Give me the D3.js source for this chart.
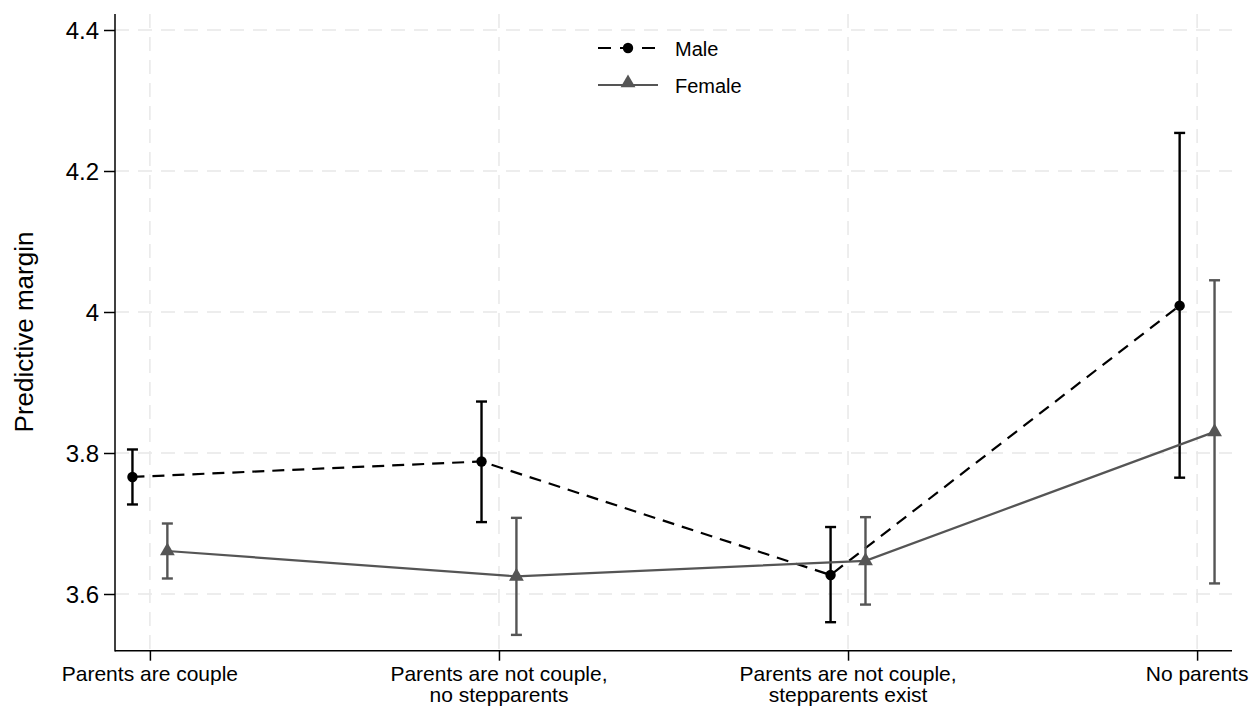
<!DOCTYPE html>
<html><head><meta charset="utf-8">
<script src="https://cdn.jsdelivr.net/npm/d3@7"></script>
<style>body{margin:0;background:#fff;font-family:Arial,"Liberation Sans",sans-serif;}</style>
</head><body><svg id="c" width="1253" height="706"></svg>
<script>
const categories = [["Parents are couple"],["Parents are not couple,","no stepparents"],["Parents are not couple,","stepparents exist"],["No parents"]];
const maleMean = [3.766, 3.788, 3.627, 4.009];
const maleLo   = [3.727, 3.702, 3.560, 3.765];
const maleHi   = [3.805, 3.873, 3.695, 4.254];
const femaleMean = [3.661, 3.625, 3.647, 3.830];
const femaleLo   = [3.622, 3.542, 3.585, 3.615];
const femaleHi   = [3.700, 3.708, 3.709, 4.045];
const yTicks = [3.6, 3.8, 4, 4.2, 4.4];
const yTickLabels = ["3.6","3.8","4","4.2","4.4"];

(function(){
const svg = d3.select("#c");
const pL=115, pR=1232, pT=14, pB=650.7;
const x = d3.scaleLinear().domain([0.9,4.1]).range([pL,pR]);
const y = d3.scaleLinear().domain([3.6,4.4]).range([594,30]);
const font = "Arial, 'Liberation Sans', sans-serif";

// gridlines
const g = svg.append("g");
g.selectAll(".hg").data(yTicks).join("line")
 .attr("x1",pL).attr("x2",pR).attr("y1",d=>y(d)).attr("y2",d=>y(d))
 .attr("stroke","#e8e8e8").attr("stroke-width",1.5).attr("stroke-dasharray","14,9");
g.selectAll(".vg").data(categories).join("line")
 .attr("x1",(d,i)=>x(i+1)).attr("x2",(d,i)=>x(i+1)).attr("y1",pT).attr("y2",pB)
 .attr("stroke","#e8e8e8").attr("stroke-width",1.5).attr("stroke-dasharray","14,9");

// axes
const yAxis = d3.axisLeft(y).tickValues(yTicks).tickFormat((d,i)=>yTickLabels[i]).tickSize(11).tickPadding(5);
const ya = svg.append("g").attr("transform",`translate(${pL},0)`).call(yAxis);
ya.select(".domain").remove();
ya.selectAll("line").attr("stroke","#000").attr("stroke-width",1.5);
ya.selectAll("text").attr("font-size",24).attr("font-family",font).attr("fill","#000").attr("dy","0.36em");
svg.append("line").attr("x1",pL).attr("x2",pL).attr("y1",pT).attr("y2",pB+0.75).attr("stroke","#000").attr("stroke-width",1.5);
svg.append("line").attr("x1",pL).attr("x2",pR).attr("y1",pB).attr("y2",pB).attr("stroke","#000").attr("stroke-width",1.5);

const xAxis = d3.axisBottom(x).tickValues([1,2,3,4]).tickSize(10).tickFormat("");
const xa = svg.append("g").attr("transform",`translate(0,${pB})`).call(xAxis);
xa.select(".domain").remove();
xa.selectAll("line").attr("stroke","#000").attr("stroke-width",1.5);
categories.forEach((lines,i)=>{
  lines.forEach((l,j)=>svg.append("text").attr("x",x(i+1)).attr("y",681+j*21).attr("text-anchor","middle")
    .attr("font-size",21).attr("font-family",font).attr("fill","#000").text(l));
});

svg.append("text").attr("transform",`translate(33,332) rotate(-90)`)
 .attr("text-anchor","middle").attr("font-size",26).attr("font-family",font).text("Predictive margin");

// series
const off = 0.05;
function series(mean, lo, hi, dx, color, dash, marker){
  const pts = mean.map((m,i)=>({x:i+1+dx,m,lo:lo[i],hi:hi[i]}));
  const sg = svg.append("g");
  sg.append("path").datum(pts).attr("d",d3.line().x(d=>x(d.x)).y(d=>y(d.m)))
    .attr("fill","none").attr("stroke",color).attr("stroke-width",2.2).attr("stroke-dasharray",dash);
  pts.forEach(p=>{
    sg.append("line").attr("x1",x(p.x)).attr("x2",x(p.x)).attr("y1",y(p.lo)).attr("y2",y(p.hi)).attr("stroke",color).attr("stroke-width",2.4);
    [p.lo,p.hi].forEach(v=>sg.append("line").attr("x1",x(p.x)-5.5).attr("x2",x(p.x)+5.5).attr("y1",y(v)).attr("y2",y(v)).attr("stroke",color).attr("stroke-width",2.4));
    sg.append("path").attr("d",d3.symbol().type(marker).size(marker===d3.symbolCircle?85:95)())
      .attr("transform",`translate(${x(p.x)},${y(p.m)})`).attr("fill",color);
  });
}
series(maleMean,maleLo,maleHi,-off,"#000","12,8",d3.symbolCircle);
series(femaleMean,femaleLo,femaleHi,off,"#555555",null,d3.symbolTriangle);

// legend
const lg = svg.append("g");
lg.append("line").attr("x1",598).attr("x2",658).attr("y1",48).attr("y2",48).attr("stroke","#000").attr("stroke-width",2.2).attr("stroke-dasharray","13,9");
lg.append("path").attr("d",d3.symbol().type(d3.symbolCircle).size(85)()).attr("transform","translate(628,48)").attr("fill","#000");
lg.append("text").attr("x",675).attr("y",55.7).attr("font-size",20).attr("font-family",font).text("Male");
lg.append("line").attr("x1",598).attr("x2",658).attr("y1",85).attr("y2",85).attr("stroke","#555555").attr("stroke-width",2.2);
lg.append("path").attr("d",d3.symbol().type(d3.symbolTriangle).size(95)()).attr("transform","translate(628,83)").attr("fill","#555555");
lg.append("text").attr("x",675).attr("y",93.3).attr("font-size",20).attr("font-family",font).text("Female");
})();
</script></body></html>
